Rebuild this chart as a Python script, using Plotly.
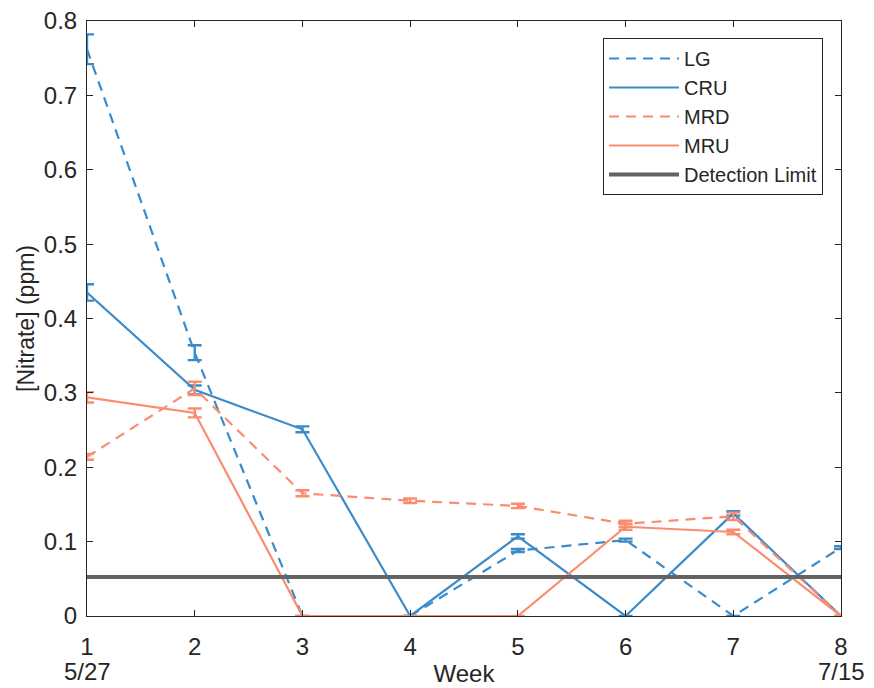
import plotly.graph_objects as go

weeks = [1, 2, 3, 4, 5, 6, 7, 8]
lg = [0.762, 0.354, 0.0, 0.0, 0.088, 0.102, 0.0, 0.092]
lg_err = [0.020, 0.010, 0.0, 0.0, 0.002, 0.002, 0.0, 0.002]
cru = [0.435, 0.304, 0.251, 0.0, 0.107, 0.0, 0.138, 0.0]
cru_err = [0.011, 0.006, 0.004, 0.0, 0.003, 0.0, 0.003, 0.0]
mrd = [0.214, 0.306, 0.165, 0.155, 0.148, 0.124, 0.134, 0.0]
mrd_err = [0.004, 0.009, 0.004, 0.003, 0.003, 0.004, 0.005, 0.0]
mru = [0.294, 0.273, 0.0, 0.0, 0.0, 0.120, 0.113, 0.0]
mru_err = [0.007, 0.006, 0.0, 0.0, 0.0, 0.004, 0.003, 0.0]
detection_limit = 0.0525
date_labels = {1: "5/27", 8: "7/15"}
y_ticks = [0, 0.1, 0.2, 0.3, 0.4, 0.5, 0.6, 0.7, 0.8]
y_ticktext = ["0", "0.1", "0.2", "0.3", "0.4", "0.5", "0.6", "0.7", "0.8"]

BLUE = "#3a8bca"
SALMON = "#fb8c6f"
GRAY = "#636363"
AX = "#262626"
FONT = "Liberation Sans, Arial, sans-serif"

fig = go.Figure()

def add(name, y, err, color, dash):
    fig.add_trace(go.Scatter(
        x=weeks, y=y, name=name, mode="lines",
        line=dict(color=color, width=2.2, dash=dash),
        error_y=dict(type="data", array=err, visible=True, color=color,
                     thickness=2.4, width=7),
        cliponaxis=False,
    ))

add("LG", lg, lg_err, BLUE, "10px,7px")
add("CRU", cru, cru_err, BLUE, "solid")
add("MRD", mrd, mrd_err, SALMON, "10px,7px")
add("MRU", mru, mru_err, SALMON, "solid")
fig.add_trace(go.Scatter(
    x=[weeks[0], weeks[-1]], y=[detection_limit, detection_limit],
    name="Detection Limit", mode="lines",
    line=dict(color=GRAY, width=4),
))

for xv, txt in date_labels.items():
    fig.add_annotation(x=xv, y=-0.094, xref="x", yref="paper", text=txt,
                       showarrow=False, yanchor="middle", xanchor="center",
                       font=dict(size=24, color=AX, family=FONT))

fig.update_layout(
    width=874, height=688,
    margin=dict(l=87, r=33, t=21, b=72),
    paper_bgcolor="white", plot_bgcolor="white",
    font=dict(family=FONT, color=AX, size=22),
    showlegend=True,
    legend=dict(x=(823 - 87) / 754, y=(616 - 38) / 595, xanchor="right", yanchor="top",
                bgcolor="white", bordercolor=AX, borderwidth=1,
                itemwidth=70, tracegroupgap=0,
                font=dict(size=20, color=AX, family=FONT)),
    xaxis=dict(range=[1, 8], tickmode="array", tickvals=weeks, automargin=False,
               ticks="inside", ticklen=6, tickcolor=AX, mirror="ticks",
               showline=True, linecolor=AX, linewidth=1, showgrid=False,
               zeroline=False, tickfont=dict(size=24), ticklabelstandoff=9,
               title=dict(text="Week", font=dict(size=24), standoff=6)),
    yaxis=dict(range=[0, 0.8], tickmode="array", automargin=False,
               tickvals=y_ticks, ticktext=y_ticktext,
               ticks="inside", ticklen=6, tickcolor=AX, mirror="ticks",
               showline=True, linecolor=AX, linewidth=1, showgrid=False,
               zeroline=False, tickfont=dict(size=24), ticklabelstandoff=4,
               title=dict(text="[Nitrate] (ppm)", font=dict(size=23), standoff=2)),
)

fig.write_html("out.html")
